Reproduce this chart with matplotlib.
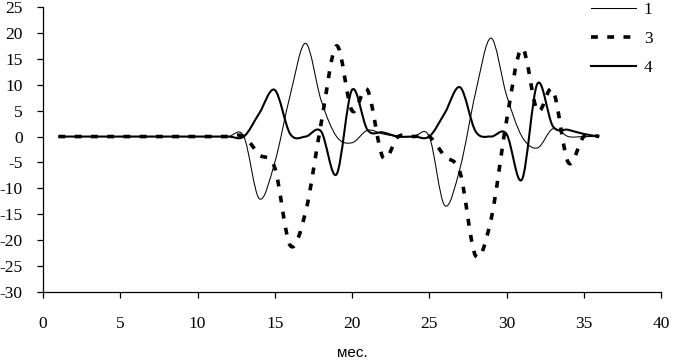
import matplotlib
matplotlib.use("Agg")
import matplotlib.pyplot as plt
from matplotlib.path import Path
from matplotlib.patches import PathPatch
from matplotlib.lines import Line2D

plt.rcParams["font.family"] = ["Liberation Serif", "DejaVu Serif"]
plt.rcParams["axes.unicode_minus"] = False

months = list(range(1, 37))
series_1 = [0]*12 + [0, -12, -5, 8, 18, 7, 0, -1.2, 1.2, 0.5, 0, 0,
                     0, -13.3, -6, 8.5, 19, 8, 0, -2.2, 1.5, 0, 0, 0]
series_3 = [0]*12 + [0, -3.5, -6, -21, -14.5, 2.5, 17.5, 5, 9, -4, 0, 0,
                     0, -3.8, -7, -23, -16, 3, 17, 5, 9, -5, 0, 0]
series_4 = [0]*12 + [0, 4.5, 9, 0.5, 0, 1, -7.3, 9, 1.3, 0.8, 0, 0,
                     0, 4.5, 9.5, 1, 0, 0.5, -8.3, 10.2, 2, 1.3, 0.5, 0]
labels = ["1", "3", "4"]
x_ticks = list(range(0, 41, 5))
y_ticks = list(range(-30, 26, 5))
x_label = "мес."


def smooth_path(xs, ys):
    pts = list(zip(xs, ys))
    n = len(pts)
    verts = [pts[0]]
    codes = [Path.MOVETO]
    for i in range(n - 1):
        p0 = pts[i - 1] if i > 0 else pts[i]
        p1 = pts[i]
        p2 = pts[i + 1]
        p3 = pts[i + 2] if i + 2 < n else pts[i + 1]
        c1 = (p1[0] + (p2[0] - p0[0]) / 6, p1[1] + (p2[1] - p0[1]) / 6)
        c2 = (p2[0] - (p3[0] - p1[0]) / 6, p2[1] - (p3[1] - p1[1]) / 6)
        verts += [c1, c2, p2]
        codes += [Path.CURVE4] * 3
    return Path(verts, codes)


fig = plt.figure(figsize=(6.73, 3.63), dpi=100)
ax = fig.add_axes([43/673, 71/363, 618/673, 285/363])

styles = [
    dict(lw=0.75, ls="-"),
    dict(lw=2.6, ls=(0, (1.9, 2.6))),
    dict(lw=1.5, ls="-"),
]
handles = []
for ys, st, lab in zip([series_1, series_3, series_4], styles, labels):
    patch = PathPatch(smooth_path(months, ys), fill=False, edgecolor="black",
                      linewidth=st["lw"], linestyle=st["ls"], capstyle="butt",
                      joinstyle="round")
    ax.add_patch(patch)
    handles.append(Line2D([], [], color="black", lw=st["lw"], ls=st["ls"],
                          dash_capstyle="butt", label=lab))

ax.set_xlim(0, 40)
ax.set_ylim(-30, 25)
ax.set_xticks(x_ticks)
ax.set_yticks(y_ticks)
ax.spines["top"].set_visible(False)
ax.spines["right"].set_visible(False)
for s in ["left", "bottom"]:
    ax.spines[s].set_linewidth(0.9)
ax.tick_params(direction="out", length=4.5, width=0.9)
ax.tick_params(axis="y", pad=10)
ax.tick_params(axis="x", pad=13)
for lbl in ax.get_xticklabels() + ax.get_yticklabels():
    lbl.set_fontsize(12.5)

ax.set_xlabel(x_label, fontfamily="Liberation Sans", fontsize=11, labelpad=10)

leg = fig.legend(handles=handles, loc="upper left",
                 bbox_to_anchor=(591/673, 1 - 2/363), frameon=False,
                 prop={"family": "Liberation Serif", "size": 12.5},
                 handlelength=2.6, handletextpad=0.45, labelspacing=0.75,
                 borderpad=0, borderaxespad=0)

fig.savefig("out.png", dpi=100)
